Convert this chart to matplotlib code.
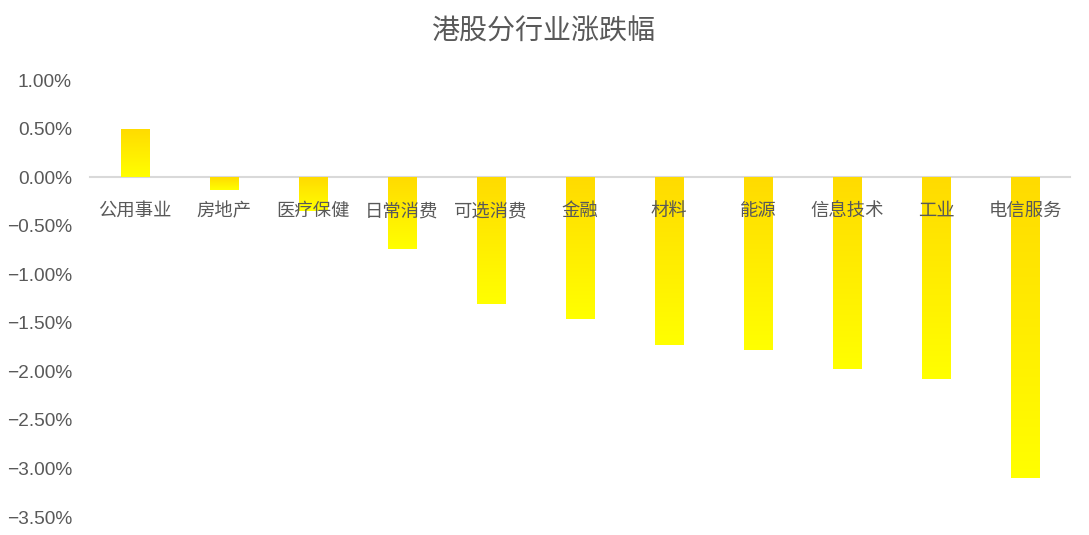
import matplotlib
matplotlib.use("Agg")
import matplotlib.pyplot as plt
import numpy as np
from matplotlib.colors import LinearSegmentedColormap
from matplotlib.ticker import FuncFormatter

plt.rcParams['font.family'] = ['Noto Sans CJK SC', 'DejaVu Sans']
plt.rcParams['axes.unicode_minus'] = True

categories = ['公用事业', '房地产', '医疗保健', '日常消费', '可选消费', '金融',
              '材料', '能源', '信息技术', '工业', '电信服务']
values = [0.50, -0.13, -0.35, -0.74, -1.31, -1.46, -1.73, -1.78, -1.98, -2.08, -3.10]
yticks = [1.0, 0.5, 0.0, -0.5, -1.0, -1.5, -2.0, -2.5, -3.0, -3.5]
title = '港股分行业涨跌幅'

text_color = '#595959'
fig = plt.figure(figsize=(10.89, 5.35), dpi=100)
ax = fig.add_axes([90/1089, 18/535, 980/1089, 437/535])

cmap = LinearSegmentedColormap.from_list('gy', ['#FFDB00', '#FFFF00'])
grad = np.linspace(0, 1, 256).reshape(-1, 1)

x = np.arange(len(categories))
width = 0.315
bars = ax.bar(x, values, width=width, color='none', edgecolor='none', zorder=1)
for b, v in zip(bars, values):
    x0 = b.get_x()
    x1 = x0 + b.get_width()
    top = max(0, v)
    bot = min(0, v)
    im = ax.imshow(grad, cmap=cmap, aspect='auto', extent=(x0, x1, bot, top),
                   origin='upper', zorder=1)
    im.set_clip_path(b)

ax.set_xlim(-0.5, len(categories) - 0.5)
ax.set_ylim(-3.5, 1.0)

for s in ['top', 'right', 'left']:
    ax.spines[s].set_visible(False)
ax.spines['bottom'].set_position(('data', 0))
ax.spines['bottom'].set_color('#d9d9d9')
ax.spines['bottom'].set_linewidth(1.5)
ax.spines['bottom'].set_zorder(0.5)

ax.set_xticks(x)
ax.set_xticklabels(categories, fontsize=13.2, color=text_color)
ax.tick_params(axis='x', length=0, pad=18)

ax.set_yticks(yticks)
ax.yaxis.set_major_formatter(FuncFormatter(lambda v, p: f"{v:.2f}%".replace('-', '\u2212')))
ax.tick_params(axis='y', length=0, pad=13, labelsize=13.8, labelcolor=text_color)
for lab in ax.get_yticklabels():
    lab.set_family(['Liberation Sans', 'DejaVu Sans'])

fig.text(543/1089, 1 - 32/535, title, ha='center', va='center', fontsize=20.2, color=text_color)

fig.savefig('out.png', dpi=100)
